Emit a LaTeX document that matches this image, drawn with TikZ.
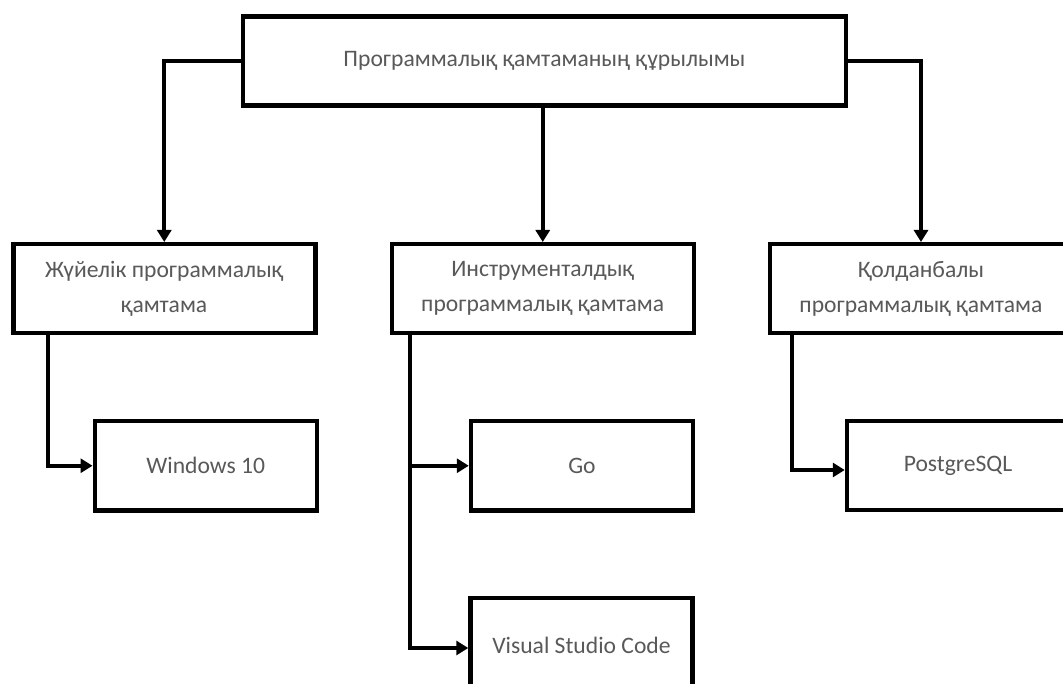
\documentclass[tikz,border=0pt]{standalone}
\usepackage{fontspec}
\setmainfont{Carlito}
\usetikzlibrary{arrows.meta}
\definecolor{txtgray}{HTML}{595959}
\begin{document}
\begin{tikzpicture}[x=1pt,y=-1pt,
  box/.style={draw=black,line width=4.5pt,fill=white,minimum height=89pt,inner sep=0pt,
    align=center,text=txtgray,font=\fontsize{23.6pt}{35pt}\selectfont},
  midbox/.style={box,minimum width=302pt},
  leafbox/.style={box,minimum width=222pt},
  conn/.style={line width=4pt,-{Triangle[length=12pt,width=14pt]}}]
\useasboundingbox (0,0) rectangle (1063,684);
\clip (0,0) rectangle (1063,684);
\fill[white] (0,0) rectangle (1063,684);

\node[box,minimum width=603pt] (top) at (544.5,61) {Программалық қамтаманың құрылымы};

\node[midbox] (sys) at (164.25,288.75) {Жүйелік программалық\\қамтама};
\node[midbox] (ins) at (542.75,288.75) {Инструменталдық\\программалық қамтама};
\node[midbox] (app) at (921,288.75) {Қолданбалы\\программалық қамтама};

\node[leafbox] (win) at (205.75,465.75) {Windows 10};
\node[leafbox] (go) at (582,465.75) {Go};
\node[leafbox,minimum height=100pt] (vsc) at (581.5,648) {\raisebox{5pt}{Visual Studio Code}};
\node[leafbox] (pg) at (958,465.5) {PostgreSQL};

\draw[conn] (top.west) -| (sys.north);
\draw[conn] (top.south -| ins.north) -- (ins.north);
\draw[conn] (top.east) -| (app.north);

\draw[conn] ([xshift=36.75pt]sys.south west) |- (win.west);
\draw[conn] ([xshift=20.75pt]ins.south west) |- (go.west);
\draw[conn] ([xshift=20.75pt]ins.south west) |- (vsc.west);
\draw[conn] ([xshift=24pt]app.south west) |- ([yshift=-4.5pt]pg.west);
\end{tikzpicture}
\end{document}
